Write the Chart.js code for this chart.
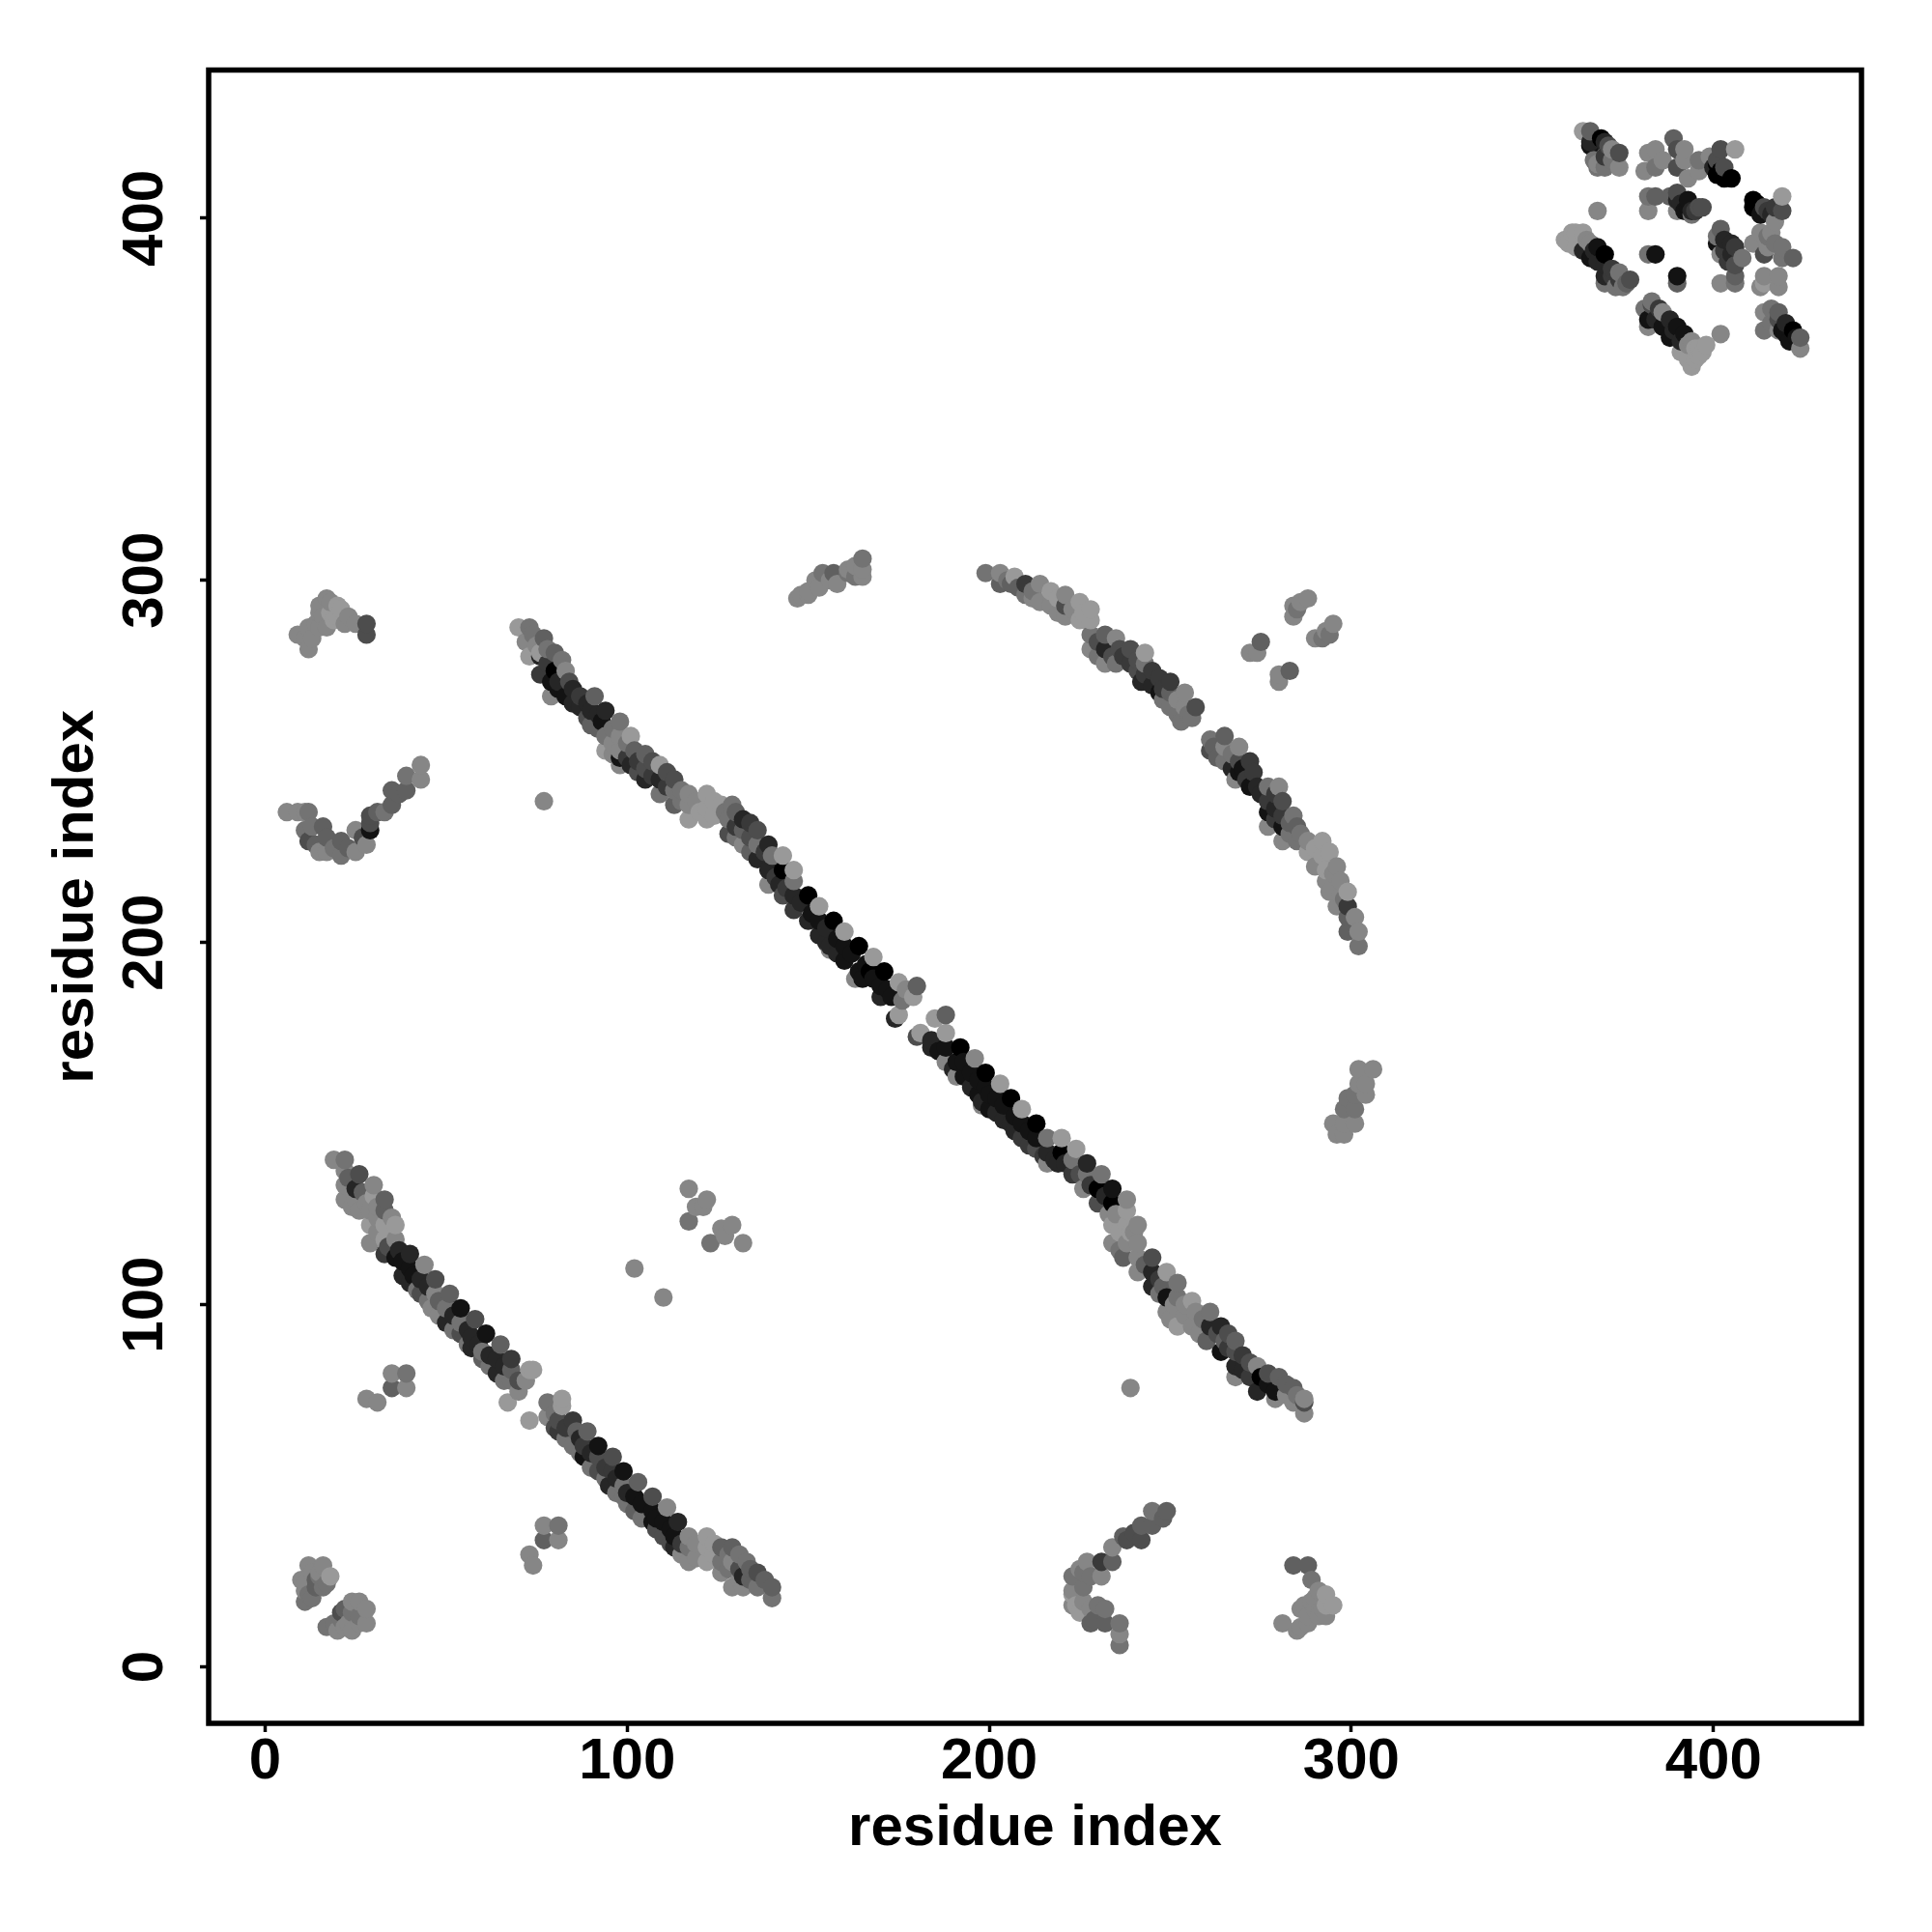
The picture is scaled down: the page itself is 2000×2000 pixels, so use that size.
<!DOCTYPE html>
<html>
<head>
<meta charset="utf-8">
<title>residue contact map</title>
<script src="https://cdn.jsdelivr.net/npm/chart.js@4/dist/chart.umd.min.js"></script>
<style>
  html, body { margin: 0; background: #fff; }
  canvas { display: block; }
</style>
</head>
<body>
<canvas id="myChart" width="2000" height="2000"></canvas>
<script>
// contacts: [residue i, residue j, score 1 (weak) .. 9 (strong)]
const mainStrand = [
  [70,287,1],[73,287,3],[72,283,2],[77,284,4],[73,279,1],[80,280,4],[76,280,1],[76,279,7],[76,274,6],[80,275,9],
  [83,275,2],[84,272,5],[79,272,8],[79,268,2],[83,268,8],[87,268,6],[91,268,4],[87,265,7],[90,264,7],[94,264,7],
  [90,260,4],[93,261,8],[98,261,3],[101,257,1],[94,253,1],[94,257,3],[98,257,2],[98,253,2],[98,251,8],[98,249,2],
  [102,253,4],[101,249,7],[105,252,4],[109,249,1],[105,248,5],[105,245,7],[109,245,7],[113,245,5],[109,241,3],
  [113,242,3],[113,238,4],[117,241,2],[117,238,2],[117,234,1],[122,241,1],[122,237,1],[122,234,1],[126,238,1],
  [129,238,3],[128,234,3],[128,230,5],[132,234,7],[132,231,4],[136,231,5],[132,227,2],[136,227,3],[136,223,7],
  [139,227,7],[140,224,3],[143,224,1],[139,220,7],[139,216,2],[143,220,9],[146,220,1],[146,217,3],[142,216,7],
  [143,213,5],[146,213,7],[146,209,6],[150,213,9],[153,210,1],[150,206,7],[153,206,8],[153,202,7],[157,206,9],
  [160,203,1],[156,199,7],[156,198,2],[160,199,8],[160,195,8],[164,199,9],[168,196,1],[164,192,8],[163,190,2],
  [167,192,9],[171,192,9],[175,189,1],[180,188,4],[179,185,1],[170,185,7],[173,185,8],[175,180,1],[174,179,7],[170,188,8]
];
const mainStrandFill = [
  [74,285,3],[75,282,2],[78,281,3],[78,277,6],[81,272,7],[82,278,3],[81,270,8],[85,270,7],[85,266,7],[89,266,7],
  [89,262,5],[92,263,7],[92,259,4],[96,259,3],[96,255,2],[96,252,2],[100,255,3],[100,251,6],[103,250,6],[103,247,5],
  [107,250,5],[107,246,6],[111,247,5],[111,243,6],[115,242,3],[115,239,3],[119,239,2],[120,236,1],[124,239,1],[124,235,1],
  [127,236,3],[130,236,4],[130,232,6],[130,229,3],[134,229,5],[134,233,6],[134,225,4],[138,225,6],
  [141,218,6],[144,215,6],[148,211,7],[151,208,8],[155,204,7],[155,200,7],
  [158,201,8],[158,197,7],[162,197,8],[166,194,8],[165,190,8],[168,190,8],[172,187,8],[176,184,3],[177,187,2]
];
const mainStrandLower = [
  [188,180,4],[185,179,1],[181,175,1],[180,174,5],[188,175,1],[184,173,7],[184,171,7],[192,171,9],[196,168,2],
  [188,167,2],[188,171,8],[191,167,8],[191,163,2],[195,164,8],[199,164,9],[203,161,1],[195,160,7],[199,160,8],
  [198,156,7],[198,155,2],[202,157,8],[202,153,7],[206,157,9],[209,154,1],[206,150,7],[209,150,8],[209,146,6],
  [213,146,8],[213,150,9],[216,146,3],[220,146,1],[213,143,5],[216,142,7],[216,139,2],[220,142,9],[219,139,7],
  [224,143,1],[223,136,6],[223,140,3],[227,139,7],[227,136,3],[231,136,3],[226,132,2],[230,132,9],[234,132,8],
  [230,128,5],[234,128,9],[238,129,2],[238,126,1],[234,122,1],[238,122,1],[241,122,2],[234,117,2],[238,117,2],
  [241,117,2],[237,113,4],[241,113,2],[241,109,2],[245,113,5],[245,109,7],[245,105,7],[249,109,1],[252,106,3],
  [248,105,4],[249,102,8],[249,98,2],[252,102,3],[256,101,1],[252,94,1],[256,94,2],[257,98,2],[261,98,3],
  [261,94,7],[260,90,4],[264,94,7],[265,90,4],[268,90,4],[268,87,5],[264,87,8],[268,83,7],[268,80,2],[272,84,5],
  [274,83,2],[275,80,9],[280,80,4],[274,76,7],[279,76,8],[284,77,4],[287,74,2],[279,74,2],[284,73,2],[287,73,5],[287,70,2]
];
const lowerMainFill = [
  [186,170,8],[190,165,7],[193,163,8],[193,167,8],[197,158,8],[197,162,8],[200,158,8],[200,154,8],[204,155,8],[204,151,7],
  [207,152,8],[207,148,7],[211,148,8],[211,144,6],[215,141,6],[218,140,7],[221,139,7],
  [225,136,5],[228,133,6],[232,130,7],[233,125,2],[235,125,2],[236,120,1],[239,120,1],
  [240,120,2],[236,115,3],[243,111,4],[247,107,6],[247,103,3],[251,100,2],[254,97,2],[254,100,2],[259,96,3],[263,92,5],
  [266,88,6],[266,92,5],[270,86,6],[270,82,7],[272,80,6],[277,78,8],[277,81,5],[282,75,2],[282,78,4],[285,75,3],[250,96,2],[258,92,2]
];
const lowerStrand = [
  [19,140,2],[22,140,3],[22,137,2],[26,136,5],[22,133,2],[22,129,2],[25,132,7],[25,129,2],[26,126,2],[30,133,2],
  [30,130,1],[29,126,2],[33,129,4],[33,126,4],[29,122,1],[33,122,1],[36,122,1],[29,117,2],[33,118,1],[36,118,2],
  [33,114,6],[36,113,8],[40,114,7],[44,111,2],[40,110,8],[40,106,7],[43,107,7],[47,107,5],[43,103,5],[47,103,2],
  [51,103,4],[46,99,2],[50,99,3],[50,95,7],[54,99,8],[58,96,5],[54,95,3],[54,92,5],[57,91,7],[57,88,7],[61,92,8],
  [65,89,4],[60,87,3],[60,85,4],[64,85,7],[64,81,7],[68,85,6],[68,82,4],[68,79,3],[73,82,1],[74,82,1],[72,79,2],[67,73,1],
  [82,74,1],[78,73,3],[82,72,1],[73,68,1],[78,69,2],[81,68,5],[85,68,6],[81,65,6],[86,65,4],[89,65,4],[85,61,3],
  [88,61,6],[92,61,8],[88,58,8],[92,58,5],[96,58,5],[92,54,5],[96,54,6],[99,54,8],[95,50,7],[99,50,3],[103,51,4],
  [99,47,3],[102,47,8],[102,43,4],[107,47,5],[111,44,2],[107,43,8],[107,40,8],[110,40,8],[114,40,7],[110,36,5],
  [113,36,8],[113,33,7],[117,36,2],[122,36,1],[117,29,2],[117,33,3],[122,33,1],[122,29,1],[126,33,4],[129,33,4],
  [126,26,2],[126,29,3],[129,29,2],[133,29,3],[132,25,7],[136,26,5],[129,22,2],[132,22,2],[136,22,3],[140,22,4],[140,19,3]
];
const lowerStrandFill = [
  [23,135,4],[24,127,2],[27,131,4],[28,128,2],[31,127,2],[31,124,2],[35,124,2],[31,120,2],[34,116,5],[37,115,7],
  [38,112,8],[38,108,7],[41,108,8],[42,104,3],[45,105,7],[45,101,3],[48,101,4],[48,97,2],
  [52,97,7],[52,93,3],[56,93,7],[56,89,3],[59,89,7],[62,86,7],[62,83,3],
  [66,83,7],[66,79,3],[70,79,5],[70,76,2],[80,70,3],[80,66,5],[83,66,6],
  [83,63,3],[87,63,7],[87,59,3],[90,59,7],[90,55,3],[94,55,6],[94,52,3],
  [97,52,7],[97,48,3],[100,48,7],[100,45,3],[104,45,8],[104,41,3],
  [108,41,8],[108,38,5],[112,38,8],[112,34,5],[115,34,6],[115,31,2],[119,34,2],[119,30,2],
  [124,34,1],[124,31,1],[128,31,3],[128,27,3],[131,31,3],[131,27,5],[131,24,2],[134,27,4],[134,24,4],[138,24,4]
];
const arcStrand = [
  [199,302,3],[203,302,2],[203,299,4],[207,301,1],[206,299,4],[210,299,6],[210,296,3],[214,299,2],[214,294,2],
  [217,297,1],[217,293,2],[221,296,2],[221,290,2],[221,293,5],[225,294,1],[225,289,1],[228,292,1],[228,289,1],
  [228,285,3],[228,281,2],[232,285,4],[235,284,2],[232,281,7],[232,277,2],[236,281,5],[239,281,5],[235,277,3],
  [239,277,6],[243,280,1],[243,277,3],[243,274,6],[242,272,7],[247,273,6],[250,272,6],[247,269,8],[250,269,4],
  [254,269,2],[250,265,3],[254,265,2],[257,265,5],[253,261,3],[256,262,3],
  [261,256,3],[265,257,4],[261,253,5],[265,254,2],[269,254,2],[265,250,3],[269,250,5],[272,250,6],[269,247,8],
  [273,247,6],[268,245,2],[272,243,8],[277,243,3],[280,243,2],[274,243,7],[277,239,6],[281,239,5],[277,236,8],
  [277,232,2],[281,235,6],[281,232,8],[281,228,2],[284,235,3],[285,232,4],[285,228,3],[288,228,2],[288,225,1],
  [290,221,2],[292,228,1],[294,225,1],[296,221,2],[293,217,2],[294,214,2],[297,217,2],[299,214,1],[296,210,2],
  [299,210,6],[301,207,2],[299,207,4],[299,203,4],[302,203,2],[302,199,3]
];
const arcStrandFill = [
  [205,300,3],[208,298,4],[212,297,3],[212,295,2],[219,295,1],[219,291,2],[223,292,2],[226,291,1],[230,283,5],[230,279,3],
  [234,279,5],[237,279,6],[241,278,5],[241,275,5],[245,275,6],[245,271,7],[248,270,6],[248,267,3],[252,267,2],[252,263,3],
  [255,263,3],[262,254,4],[263,251,4],[267,252,3],[267,248,7],[270,248,8],[271,245,6],[275,241,7],[279,241,6],[279,237,7],
  [279,234,6],[283,233,4],[283,230,3],[286,230,3],[290,226,1],[292,224,1],[293,220,1],[295,219,2],[297,213,2],[298,212,3]
];
const topRightBlock = [
  [364,424,1],[366,424,4],[366,421,7],[369,422,9],[366,420,8],[370,421,7],[371,420,5],[372,419,2],[374,418,5],
  [368,414,3],[370,414,3],[374,414,2],[368,415,2],[382,418,2],[384,419,2],[381,413,2],[384,414,3],[389,422,4],
  [390,419,5],[392,419,2],[390,414,5],[392,416,2],[393,411,2],[396,413,2],[399,417,2],[396,416,3],[402,419,5],
  [406,419,1],[401,416,5],[401,415,9],[403,414,5],[401,412,9],[405,411,9],[403,411,9],
  [382,406,3],[384,406,4],[382,402,2],[388,406,4],[390,407,5],[390,405,7],[393,405,8],[390,402,2],[392,402,8],
  [394,402,7],[396,403,5],[397,403,5],[394,401,3],[368,402,2],
  [359,394,1],[362,396,1],[364,396,1],[362,392,1],[366,393,2],[364,391,7],[368,392,8],[370,390,9],[366,389,8],
  [370,387,7],[374,385,3],[370,384,7],[370,382,3],[374,383,6],[375,381,3],[377,383,5],[382,390,3],[384,390,8],
  [390,384,8],[390,382,4],
  [411,405,9],[411,403,9],[414,403,5],[416,401,7],[419,406,1],[419,402,5],[413,401,8],[417,399,2],[413,396,2],
  [416,396,2],[411,393,2],[414,390,5],[415,392,2],[419,392,3],[419,389,3],[422,389,4],
  [402,397,4],[401,395,3],[401,393,8],[402,390,2],[405,393,7],[406,392,6],[405,390,7],[408,389,3],[406,387,5],
  [402,382,2],[406,384,4],[406,382,3],[414,384,2],[413,381,2],[418,384,2],[418,381,2],[414,382,1],
  [383,377,3],[381,375,3],[383,376,5],[386,374,2],[382,370,2],[382,372,8],[386,370,8],[390,370,8],[392,368,8],
  [388,367,8],[394,366,2],[396,364,1],[391,363,1],[395,361,1],[394,359,1],[397,363,1],[402,368,2],
  [414,374,2],[418,374,4],[414,369,3],[418,369,2],[418,372,5],[420,371,7],[419,369,8],[422,369,9],[421,366,8],
  [424,367,4],[424,364,2],
  [367,416,3],[370,417,6],[372,416,3],[365,394,2],[367,391,7],[368,388,7],[372,386,6],[372,384,6],[376,382,4],[373,381,3],
  [360,393,1],[361,396,1],[384,372,7],[385,375,6],[388,372,7],[391,366,7],[393,365,2],[395,364,1],[396,362,1],[393,361,1],
  [398,365,1],[389,369,7],[403,394,7],[403,391,6],[404,388,6],[412,404,9],[415,402,6],[417,403,6],[415,395,3],[417,393,3],
  [416,371,3],[416,375,3],[420,368,8],[423,367,8],[391,404,7],[393,403,8],[395,402,6],[400,414,7],[402,413,9],[386,416,2]
];
const cornerBlocks = [
  [12,28,2],[16,28,2],[18,25,1],[10,24,2],[14,24,4],[14,22,4],[16,22,3],[11,18,3],[11,21,2],
  [13,19,3],[13,26,2],[15,26,2],[17,23,3],[12,20,3],[11,23,2],[15,25,3],
  [24,18,2],[28,16,2],[21,15,5],[24,15,3],[28,12,2],[24,10,2],[17,11,3],[20,10,2],[23,12,2],[21,13,3],
  [26,14,3],[26,18,2],[22,16,4],[19,12,3],[22,11,2],[26,12,2],
  [9,285,2],[12,281,2],[12,287,2],[14,288,2],[15,293,2],[17,295,2],[18,294,2],[20,293,1],[17,287,2],[20,290,1],
  [23,290,2],[25,288,2],[28,288,5],[28,285,5],
  [13,284,2],[15,287,2],[16,290,2],[18,291,1],[19,289,1],[21,292,1],[15,291,2],[22,288,2],[11,284,2],
  [6,236,2],[11,236,2],[12,236,3],[11,231,3],[12,228,5],[16,232,4],[17,229,4],[17,225,2],[21,228,4],[21,224,3],
  [25,225,2],[25,231,2],[29,235,5],[29,231,8],[28,227,2],[33,236,3],[35,238,4],[35,242,4],[39,242,4],[39,246,3],[43,245,2],[43,249,2],
  [9,236,2],[13,232,3],[14,227,4],[15,225,2],[19,226,3],[23,226,4],[27,229,5],[29,233,5],[31,236,4],[37,241,4],
  [249,43,4],[245,43,3],[245,39,4],[242,39,4],[242,35,5],[238,35,5],[234,33,2],[231,29,6],[234,29,4],[227,29,2],
  [223,25,3],[228,25,3],[231,25,2],[223,21,2],[224,17,1],[228,16,2],[232,16,3],[228,12,4],[232,12,4],[236,12,3],[236,9,2],[236,6,3],
  [226,18,2],[226,22,3],[229,13,4],[230,17,3],[226,26,3],[225,27,2],[223,17,2],[237,36,4],[240,37,5],[248,41,4],[223,20,1],[225,15,1],
  [284,28,4],[288,28,4],[289,24,3],[291,21,2],[293,20,1],[293,17,1],[289,18,2],[286,16,2],[291,14,2],[295,17,1],
  [293,14,2],[286,11,2],[288,12,2],[281,12,2],[285,10,2],[288,14,2],[290,19,2],[292,16,2],[290,16,2],[287,17,2]
];
const sparseContacts = [
  [117,132,2],[122,129,2],[119,127,2],[121,127,2],[117,123,3],[129,122,2],[126,121,2],[127,119,2],[123,117,3],[132,117,2],
  [102,110,2],[110,102,2],[35,81,2],[39,81,3],[35,77,4],[39,77,2],[28,74,2],[31,73,2],
  [77,39,2],[81,39,3],[77,35,4],[81,35,2],[73,31,2],[74,28,2],[77,239,2],[239,77,2],
  [288,295,2],[286,294,2],[284,293,2],[285,292,3],[284,290,2],[295,288,2],[293,286,2],[294,285,3],[290,284,2],[292,284,3],
  [275,283,4],[272,280,2],[274,280,2],[283,275,4],[280,274,2],[280,272,2],
  [147,295,2],[148,296,2],[150,297,2],[153,298,2],[154,302,3],[157,302,4],[158,299,2],[161,302,3],[161,303,2],[165,306,3],[165,303,2],[165,301,2],
  [150,296,2],[156,300,2],[152,300,2],[163,304,2],[163,301,3],
  [302,165,2],[306,165,2],[302,161,2],[304,161,2],[301,158,3],[304,158,2],[301,154,3],[298,154,3],[298,150,2],[296,147,2],
  [301,150,2],[298,147,2],[295,150,2],[299,157,3]
];
const tickValues = [0, 100, 200, 300, 400];
const axisTitle = 'residue index';

// R plots in index order, so later (right/upper) dots land on top
const contacts = [].concat(
  mainStrand, mainStrandFill, mainStrandLower, lowerMainFill, lowerStrand, lowerStrandFill,
  arcStrand, arcStrandFill, topRightBlock, cornerBlocks, sparseContacts
).sort((a, b) => a[0] - b[0] || a[1] - b[1]);

const scoreToGrey = (s) => {
  const g = Math.round(153 * (9 - s) / 8);
  return `rgb(${g},${g},${g})`;
};

const frame = {
  id: 'frame',
  afterDatasetsDraw(chart) {
    const { ctx, chartArea: a } = chart;
    ctx.save();
    ctx.strokeStyle = '#000';
    ctx.lineWidth = 5.5;
    ctx.strokeRect(a.left, a.top, a.right - a.left, a.bottom - a.top);
    ctx.restore();
  }
};

Chart.defaults.font.family = '"Liberation Sans", Arial, sans-serif';
Chart.defaults.font.weight = 'bold';
Chart.defaults.font.size = 60;
Chart.defaults.color = '#000';

const ticks = {
  stepSize: 100,
  includeBounds: false,
  autoSkip: false,
  callback: (v) => (tickValues.includes(v) ? String(v) : '')
};
const grid = { drawOnChartArea: false, drawTicks: true, tickLength: 9, tickWidth: 3.5, tickColor: '#000' };

new Chart(document.getElementById('myChart').getContext('2d'), {
  type: 'scatter',
  data: {
    datasets: [{
      label: 'contacts',
      data: contacts.map((c) => ({ x: c[0], y: c[1] })),
      pointBackgroundColor: contacts.map((c) => scoreToGrey(c[2])),
      pointBorderWidth: 0,
      pointRadius: 9.6
    }]
  },
  options: {
    responsive: false,
    animation: false,
    layout: { padding: { left: 0, top: 72.5, right: 73, bottom: 0 } },
    plugins: { legend: { display: false }, tooltip: { enabled: false } },
    scales: {
      x: {
        type: 'linear', min: -15.6, max: 440.9,
        afterFit: (s) => { s.height = 216; },
        border: { display: false },
        grid,
        ticks: { ...ticks, padding: -5 },
        title: { display: true, text: axisTitle, padding: { top: 0, bottom: 71 } }
      },
      y: {
        type: 'linear', min: -15.6, max: 440.9,
        afterFit: (s) => { s.width = 216; },
        border: { display: false },
        grid,
        ticks: { ...ticks, minRotation: 90, maxRotation: 90, crossAlign: 'center', padding: 5 },
        title: { display: true, text: axisTitle, padding: { top: 43, bottom: 0 } }
      }
    }
  },
  plugins: [frame]
});
</script>
</body>
</html>
